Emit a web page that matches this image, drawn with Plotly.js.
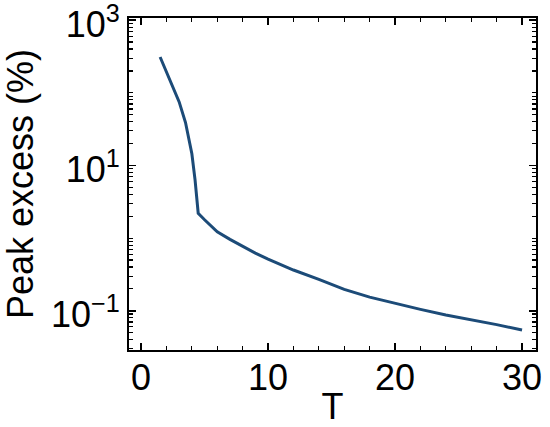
<!DOCTYPE html>
<html>
<head>
<meta charset="utf-8">
<script src="https://cdn.plot.ly/plotly-3.0.1.min.js"></script>
<style>html,body{margin:0;padding:0;background:#fff;}#chart{width:550px;height:427px;}</style>
</head>
<body>
<div id="chart"></div>
<script>
const T = [1.5, 2, 2.5, 3, 3.5, 3.75, 4, 4.25, 4.5, 5, 6, 7, 8, 9, 10, 12, 14, 16, 18, 20, 22, 24, 26, 28, 30];
const peakExcess = [311, 191, 119, 75, 39, 24.5, 14.5, 6.4, 2.2, 1.79, 1.22, 0.96, 0.77, 0.622, 0.514, 0.364, 0.271, 0.197, 0.154, 0.126, 0.1045, 0.0875, 0.0757, 0.0645, 0.0543];
const yTickVals = [0.1, 10, 1000];
const yTickText = ['10<sup>\u22121</sup>', '10<sup>1</sup>', '10<sup>3</sup>'];
const xTickVals = [0, 10, 20, 30];

const tickFont = {family: '"Liberation Sans", Arial, sans-serif', size: 36, color: '#000'};
const titleFont = {family: '"Liberation Sans", Arial, sans-serif', size: 36, color: '#000'};

Plotly.newPlot('chart', [{
  x: T, y: peakExcess, type: 'scatter', mode: 'lines',
  line: {color: '#1c4b78', width: 3}
}], {
  width: 550, height: 427,
  margin: {l: 129, r: 14, t: 18, b: 77},
  paper_bgcolor: '#fff', plot_bgcolor: '#fff',
  showlegend: false,
  font: tickFont,
  xaxis: {
    range: [-0.95, 31.1], tickmode: 'array', tickvals: xTickVals,
    ticks: 'inside', ticklen: 7, tickwidth: 1.5, tickcolor: '#000',
    minor: {dtick: 2, ticks: 'inside', ticklen: 4, tickwidth: 1.2, tickcolor: '#000'},
    showline: true, linecolor: '#000', linewidth: 2, mirror: 'allticks',
    showgrid: false, zeroline: false, ticklabeloverflow: 'allow', ticklabelstandoff: -5,
    tickfont: tickFont,
    title: {text: 'T', font: titleFont, standoff: 4}
  },
  yaxis: {
    type: 'log', range: [-1.54, 3.03], tickmode: 'array', tickvals: yTickVals, ticktext: yTickText,
    ticks: 'inside', ticklen: 7, tickwidth: 1.5, tickcolor: '#000',
    minor: {dtick: 'D1', ticks: 'inside', ticklen: 4, tickwidth: 1.2, tickcolor: '#000'},
    showline: true, linecolor: '#000', linewidth: 2, mirror: 'allticks',
    showgrid: false, zeroline: false, ticklabeloverflow: 'allow', ticklabelshift: 4,
    tickfont: tickFont,
    title: {text: 'Peak excess (%)', font: titleFont, standoff: 6}
  }
}, {displayModeBar: false, staticPlot: true});
</script>
</body>
</html>
